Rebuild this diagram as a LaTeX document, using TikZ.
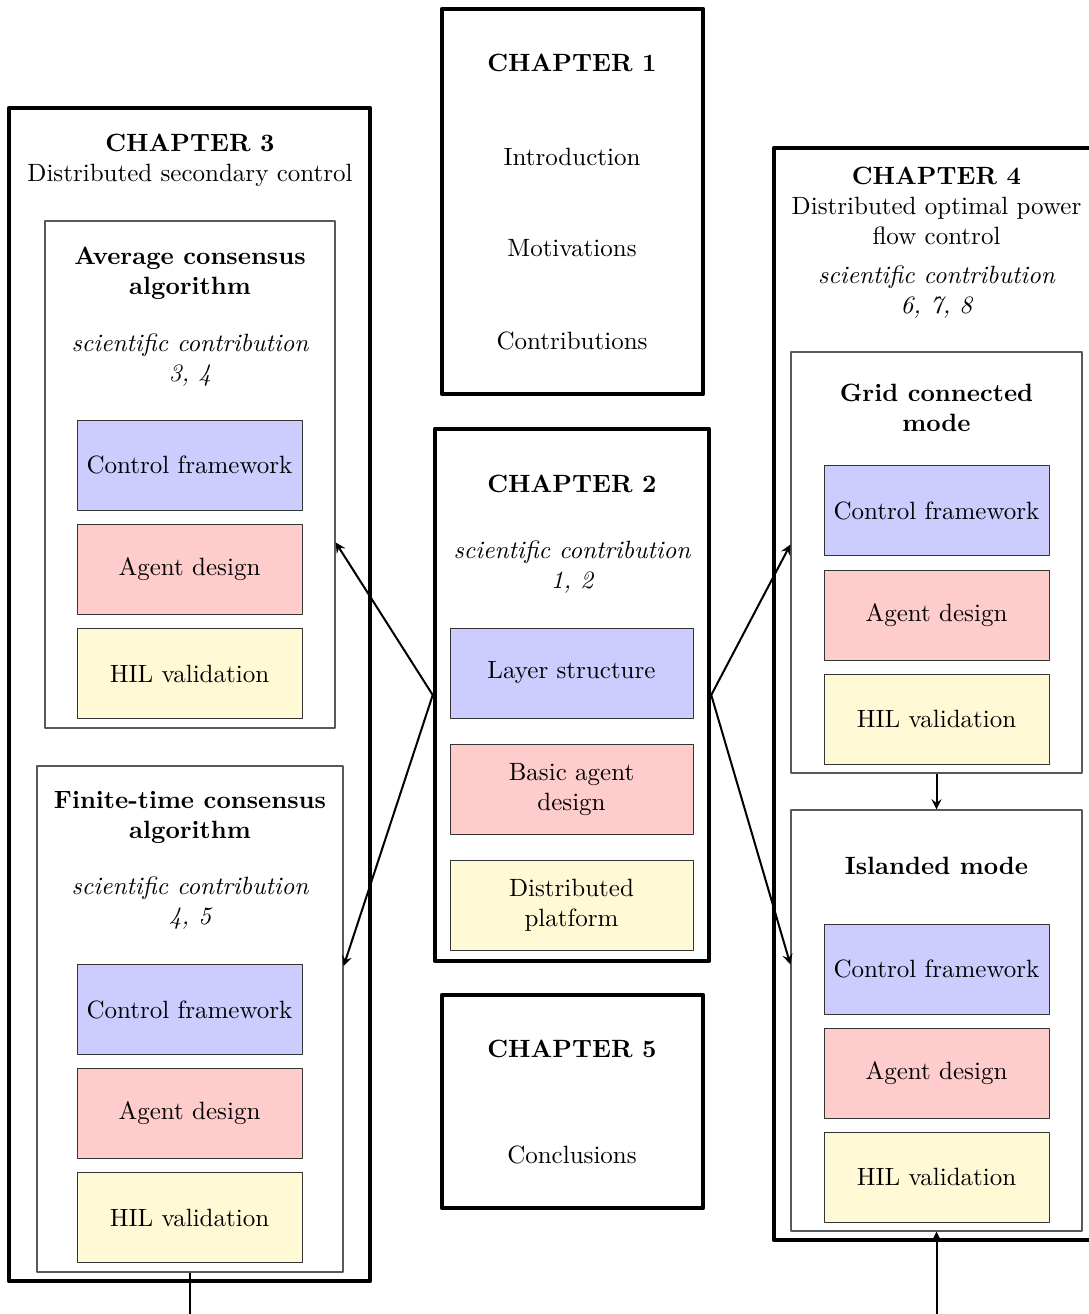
\documentclass[tikz,border=0pt]{standalone}
\usetikzlibrary{calc}
\definecolor{cfblue}{RGB}{204,204,255}
\definecolor{adred}{RGB}{255,204,204}
\definecolor{hilyellow}{RGB}{255,249,214}
\begin{document}
\begin{tikzpicture}[x=0.4pt, y=-0.4pt, line join=round, >=stealth,
	box/.style 2 args={minimum width=#1*0.4pt, minimum height=#2*0.4pt, inner sep=0pt},
	chapbox/.style={draw, line width=1.8pt},
	partbox/.style={draw=black!65, line width=0.5pt},
	cf/.style={draw=black!80, fill=cfblue, line width=0.4pt},
	ad/.style={draw=black!80, fill=adred, line width=0.4pt},
	hil/.style={draw=black!80, fill=hilyellow, line width=0.4pt},
	lbl/.style={align=center, inner sep=0pt},
	link/.style={->, thick}]%Chapters
	\useasboundingbox (0,0) rectangle (1088,1314);
	% chapter frames
	\node[chapbox, box={261}{385}] (ch1) at (572.5,201.5) {};
	\node[chapbox, box={274}{532}] (ch2) at (572,695) {};
	\node[chapbox, box={261}{213}] (ch5) at (572.5,1101.5) {};
	\node[chapbox, box={361}{1173}] (ch3) at (189.5,694.5) {};
	\node[chapbox, box={325}{1092}] (ch4) at (936.5,694) {};
	% parts inside chapters 3 and 4
	\node[partbox, box={290}{507}] (avg) at (190,474.5) {};
	\node[partbox, box={306}{506}] (fin) at (190,1019) {};
	\node[partbox, box={291}{421}] (grid) at (936.5,562.5) {};
	\node[partbox, box={291}{421}] (isl) at (936.5,1020.5) {};
	% chapter 1
	\node[lbl] (t1) at (572,63) {\textbf{CHAPTER 1}};
	\node[lbl] (intro) at (572,157) {Introduction};
	\node[lbl] (motiv) at (572,248) {Motivations};
	\node[lbl] (contr) at (572,341) {Contributions};
	% chapter 2
	\node[lbl] (t2) at (572,484) {\textbf{CHAPTER 2}};
	\node[lbl, font=\itshape] (sc2) at (572,567.5) {scientific contribution\\1, 2};
	\node[cf, box={243}{90}, align=center] (layer) at (571.5,673) {Layer structure};
	\node[ad, box={243}{90}, align=center] (basic) at (571.5,789.5) {Basic agent\\design};
	\node[hil, box={243}{90}, align=center] (platf) at (571.5,905.5) {Distributed\\platform};
	% chapter 5
	\node[lbl] (t5) at (572,1049) {\textbf{CHAPTER 5}};
	\node[lbl] (concl) at (572,1155) {Conclusions};
	% chapter 3
	\node[lbl] (t3) at (190,160) {\textbf{CHAPTER 3}\\Distributed secondary control};
	\node[lbl, font=\bfseries] (avgt) at (190,273.5) {Average consensus\\algorithm};
	\node[lbl, font=\itshape] (sc3) at (190,360) {scientific contribution\\3, 4};
	\node[lbl, font=\bfseries] (fint) at (190,817.5) {Finite-time consensus\\algorithm};
	\node[lbl, font=\itshape] (sc3b) at (190,903.5) {scientific contribution\\4, 5};
	% chapter 4
	\node[lbl] (t4) at (936.5,205.5) {\textbf{CHAPTER 4}\\Distributed optimal power\\flow control};
	\node[lbl, font=\itshape] (sc4) at (936.5,292.5) {scientific contribution\\6, 7, 8};
	\node[lbl, font=\bfseries] (gridt) at (936.5,407.5) {Grid connected\\mode};
	\node[lbl, font=\bfseries] (islt) at (936.5,866) {Islanded mode};
	% work packages
	\foreach \p/\x/\a/\b/\c in {A/189.5/465/569/673.5, B/189.5/1009.5/1113.5/1217.5, C/936.5/510.5/615/719, D/936.5/969/1073/1177}{
		\node[cf, box={225}{90}] (cf\p) at (\x,\a) {Control framework};
		\node[ad, box={225}{90}] (ad\p) at (\x,\b) {Agent design};
		\node[hil, box={225}{90}] (hil\p) at (\x,\c) {HIL validation};
	}
	% links
	\coordinate (outL) at (190,1340);
	\coordinate (outR) at (936.5,1340);
	\draw[link] (ch2.west) -- (avg.-25.9);
	\draw[link] (ch2.west) -- (fin.19.1);
	\draw[link] (ch2.east) -- (grid.173.2);
	\draw[link] (ch2.east) -- (isl.159.5);
	\draw[link] (grid.south) -- (isl.north);
	\draw[thick] (fin.south) -- (outL);
	\draw[link] (outR) -- (isl.south);
\end{tikzpicture}
\end{document}
